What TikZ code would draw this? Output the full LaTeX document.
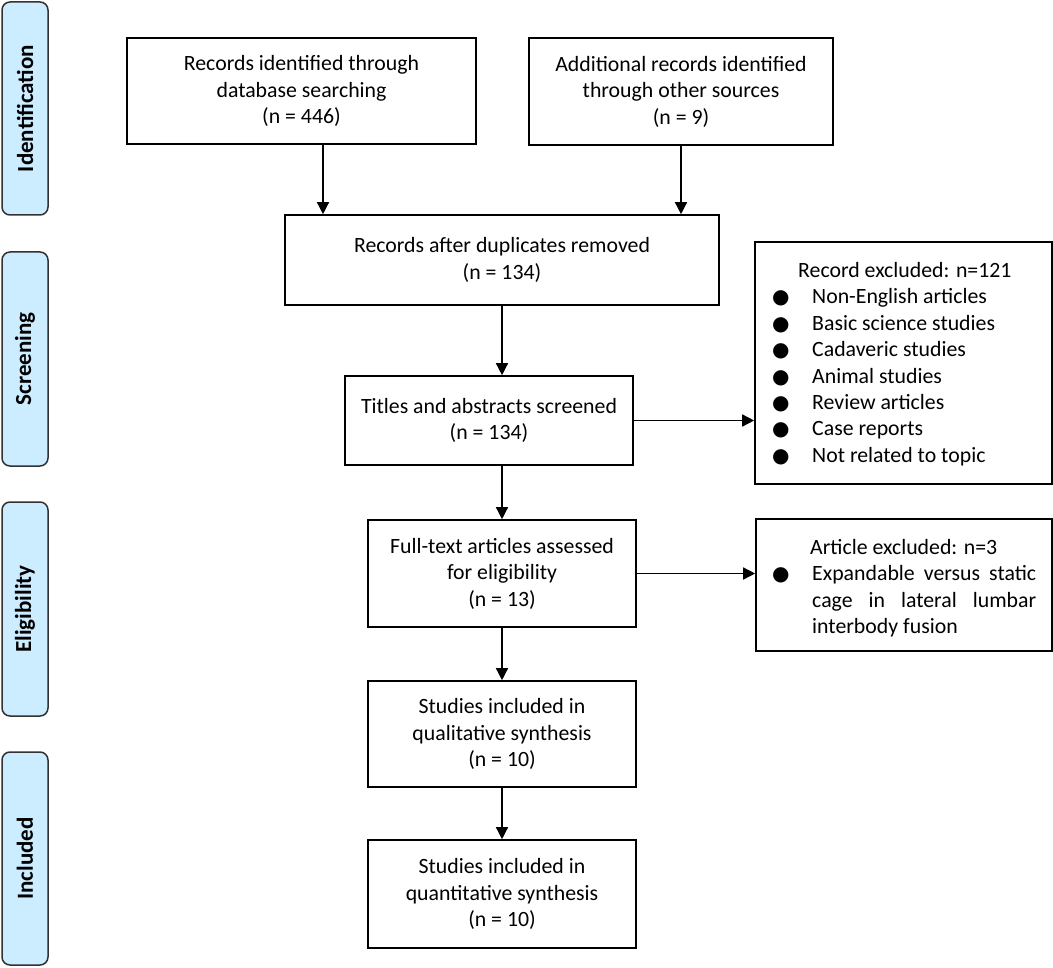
\documentclass[tikz,border=0pt]{standalone}
\usepackage{fontspec}
\setmainfont{Carlito}
\newfontfamily\dejavu{DejaVu Sans}
\usetikzlibrary{arrows.meta}
\definecolor{barblue}{RGB}{204,236,255}
\definecolor{bardraw}{RGB}{50,50,50}
\newcommand{\bul}{\makebox[40pt][l]{\fontsize{20}{20}\dejavu ●}}
\begin{document}
\begin{tikzpicture}[x=1pt,y=-1pt,
  box/.style={draw=black, line width=1.6pt, inner sep=0pt, align=center, font=\fontsize{21.8}{26.5}\selectfont},
  bar/.style={draw=bardraw, fill=barblue, line width=1.5pt, rounded corners=8pt, inner sep=0pt, minimum height=46pt, rotate=90, font=\bfseries\fontsize{23}{26}\selectfont},
  arr/.style={line width=1.4pt, -{Triangle[length=12pt,width=12pt]}},
  lst/.style={inner sep=0pt, align=left, font=\fontsize{21.8}{26.4}\selectfont}]
\useasboundingbox (0,0) rectangle (1053,968);
% phase bars
\node[bar, minimum width=213pt] (idb) at (25,108.5) {Identification};
\node[bar, minimum width=214pt] (scb) at (25,359) {Screening};
\node[bar, minimum width=214pt] (elb) at (25,609) {Eligibility};
\node[bar, minimum width=213pt] (inb) at (25,858.5) {Included};
% boxes
\node[box, minimum width=349pt, minimum height=106pt] (b1) at (301.5,91) {Records identified through\\database searching\\(n = 446)};
\node[box, minimum width=304pt, minimum height=107pt] (b2) at (681,91.5) {Additional records identified\\through other sources\\(n = 9)};
\node[box, minimum width=434pt, minimum height=90pt] (b3) at (502,260) {Records after duplicates removed\\(n = 134)};
\node[box, minimum width=288pt, minimum height=89pt] (b4) at (489,420.5) {Titles and abstracts screened\\(n = 134)};
\node[box, minimum width=297pt, minimum height=242pt] (e1) at (903.5,363) {};
\node[box, minimum width=268pt, minimum height=107pt] (b6) at (502,573.5) {Full-text articles assessed\\for eligibility\\(n = 13)};
\node[box, minimum width=296pt, minimum height=132pt] (e2) at (904,585) {};
\node[box, minimum width=268pt, minimum height=106pt] (b8) at (502,734) {Studies included in\\qualitative synthesis\\(n = 10)};
\node[box, minimum width=268pt, minimum height=108pt] (b9) at (502,894) {Studies included in\\quantitative synthesis\\(n = 10)};
% exclusion texts
\node[lst, anchor=west] (e1t) at (772,364) {\hspace*{26pt}Record excluded: n=121\\\bul Non-English articles\\\bul Basic science studies\\\bul Cadaveric studies\\\bul Animal studies\\\bul Review articles\\\bul Case reports\\\bul Not related to topic};
\node[lst, anchor=west] (e2t) at (772,588) {\hspace*{38pt}Article excluded: n=3\\\bul\makebox[224pt][s]{Expandable versus static}\\\hspace*{40pt}\makebox[224pt][s]{cage in lateral lumbar}\\\hspace*{40pt}interbody fusion};
% connectors
\coordinate (s1) at (323,0);
\coordinate (sp) at (502,0);
\draw[arr] (s1 |- b1.south) -- (s1 |- b3.north);
\draw[arr] (b2.south) -- (b2.south |- b3.north);
\draw[arr] (sp |- b3.south) -- (sp |- b4.north);
\draw[arr] (b4.east) -- (b4.east -| e1.west);
\draw[arr] (sp |- b4.south) -- (b6.north);
\draw[arr] (b6.east) -- (b6.east -| e2.west);
\draw[arr] (b6.south) -- (b8.north);
\draw[arr] (b8.south) -- (b9.north);
\end{tikzpicture}
\end{document}
